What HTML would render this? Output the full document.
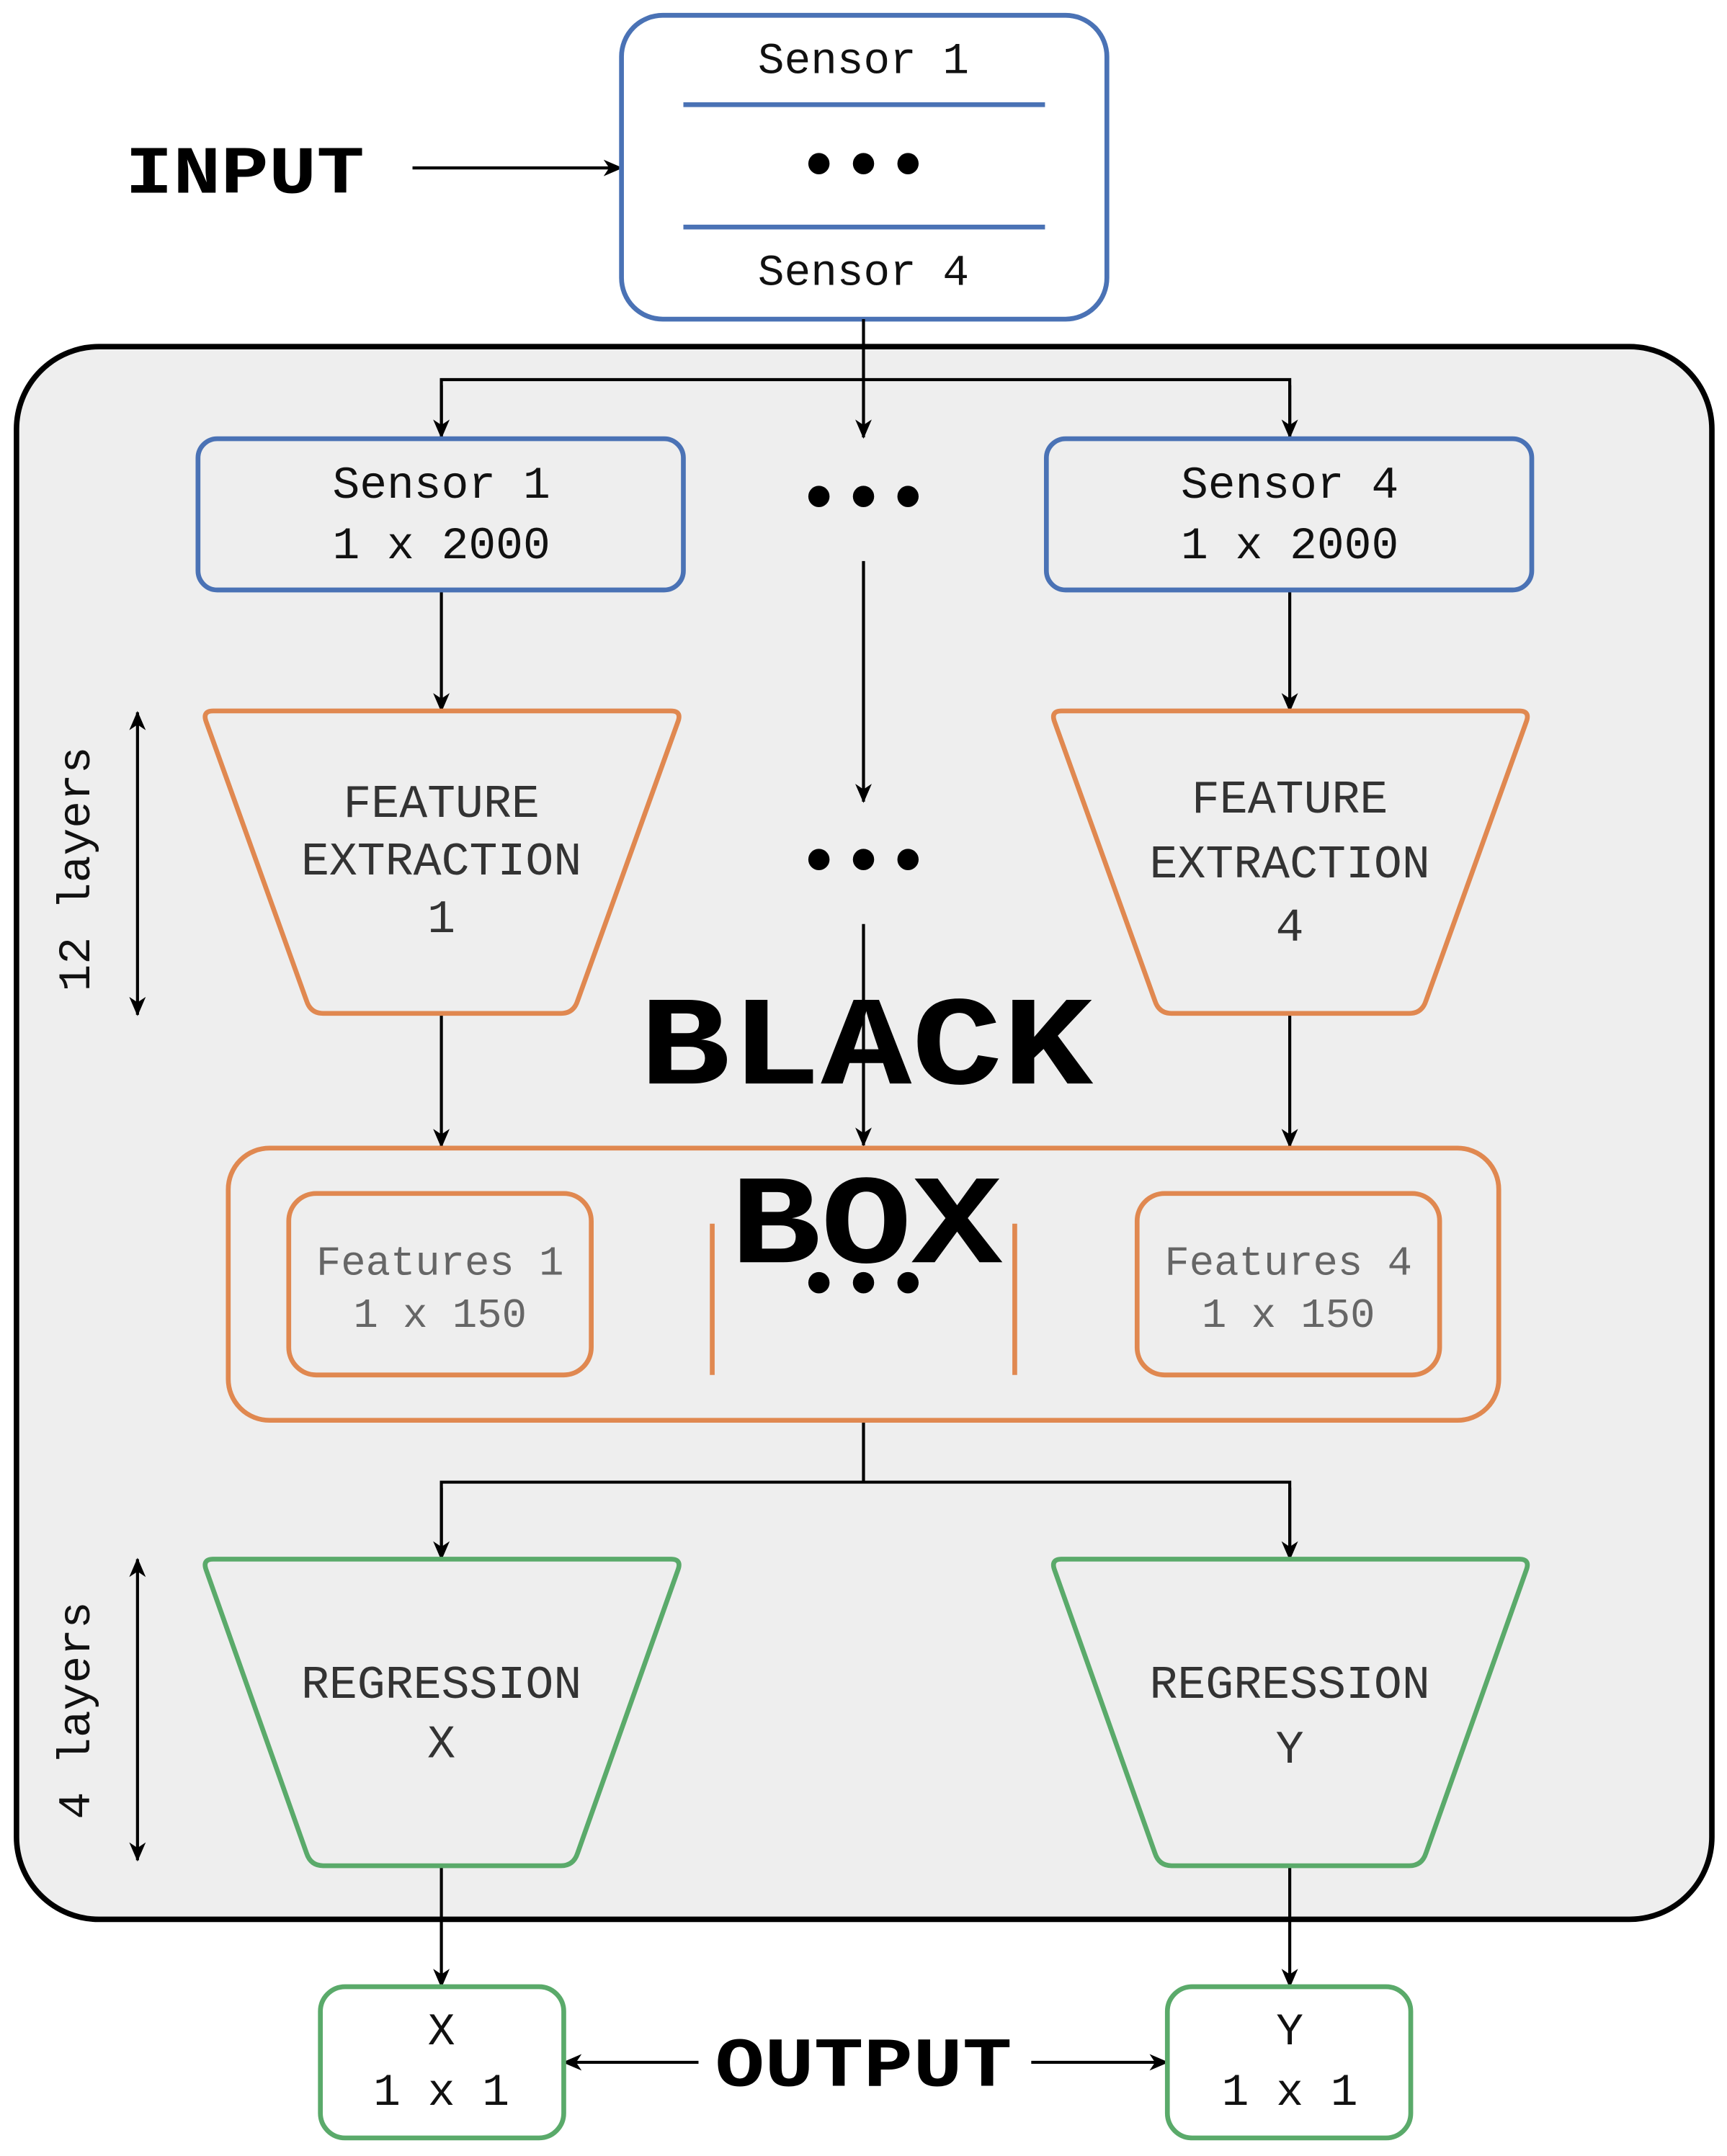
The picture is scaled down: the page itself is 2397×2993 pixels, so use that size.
<!DOCTYPE html>
<html><head><meta charset="utf-8"><style>
html,body{margin:0;padding:0;background:#fff;}
svg{display:block;}
text{font-family:"Liberation Mono","Courier New",monospace;}
</style></head><body>
<svg width="2397" height="2993" viewBox="0 0 1256 1568" xmlns="http://www.w3.org/2000/svg">
<defs>
<marker id="as" markerWidth="14" markerHeight="14" refX="13" refY="7" orient="auto-start-reverse" markerUnits="userSpaceOnUse" viewBox="0 0 14 14">
<path d="M0,1 L14,7 L0,13 L4,7 Z" fill="#000"/></marker>
</defs>
<rect width="1256" height="1568" fill="#fff"/>
<text transform="translate(178,140) scale(1,0.85)" font-size="58" font-weight="bold" text-anchor="middle">INPUT</text>
<line x1="300" y1="122" x2="452" y2="122" stroke="#000" stroke-width="2.2" marker-end="url(#as)"/>
<rect x="452" y="11" width="353" height="221" rx="30" fill="#fff" stroke="#4a72b5" stroke-width="3.5"/>
<text x="628" y="53" font-size="32" text-anchor="middle" fill="#111">Sensor 1</text>
<line x1="497" y1="76" x2="760" y2="76" stroke="#4a72b5" stroke-width="3.5"/>
<text x="628" y="137" font-size="54" font-weight="bold" text-anchor="middle">•••</text>
<line x1="497" y1="165" x2="760" y2="165" stroke="#4a72b5" stroke-width="3.5"/>
<text x="628" y="207" font-size="32" text-anchor="middle" fill="#111">Sensor 4</text>

<rect x="12" y="252" width="1233" height="1144" rx="60" fill="#eeeeee" stroke="#000" stroke-width="4"/>
<g stroke="#000" stroke-width="2.2" fill="none">
<line x1="628" y1="232" x2="628" y2="318" marker-end="url(#as)"/>
<polyline points="321,318 321,276 938,276 938,318"/>
<line x1="321" y1="280" x2="321" y2="318" marker-end="url(#as)"/>
<line x1="938" y1="280" x2="938" y2="318" marker-end="url(#as)"/>
<line x1="628" y1="408" x2="628" y2="583" marker-end="url(#as)"/>
<line x1="628" y1="672" x2="628" y2="833" marker-end="url(#as)"/>
<line x1="321" y1="429" x2="321" y2="517" marker-end="url(#as)"/>
<line x1="938" y1="429" x2="938" y2="517" marker-end="url(#as)"/>
<line x1="321" y1="737" x2="321" y2="834" marker-end="url(#as)"/>
<line x1="938" y1="737" x2="938" y2="834" marker-end="url(#as)"/>
<line x1="100" y1="518" x2="100" y2="738" marker-start="url(#as)" marker-end="url(#as)"/>
<line x1="100" y1="1134" x2="100" y2="1353" marker-start="url(#as)" marker-end="url(#as)"/>
<polyline points="628,1033 628,1078"/>
<polyline points="321,1134 321,1078 938,1078 938,1134"/>
<line x1="321" y1="1082" x2="321" y2="1134" marker-end="url(#as)"/>
<line x1="938" y1="1082" x2="938" y2="1134" marker-end="url(#as)"/>
<line x1="321" y1="1357" x2="321" y2="1445" marker-end="url(#as)"/>
<line x1="938" y1="1357" x2="938" y2="1445" marker-end="url(#as)"/>
<line x1="508" y1="1500" x2="410" y2="1500" marker-end="url(#as)"/>
<line x1="750" y1="1500" x2="849" y2="1500" marker-end="url(#as)"/>
</g>

<rect x="144" y="319" width="353" height="110" rx="14" fill="none" stroke="#4a72b5" stroke-width="3.5"/>
<rect x="761" y="319" width="353" height="110" rx="14" fill="none" stroke="#4a72b5" stroke-width="3.5"/>
<g font-size="33" text-anchor="middle" fill="#111">
<text x="321" y="362">Sensor 1</text><text x="321" y="406">1 x 2000</text>
<text x="938" y="362">Sensor 4</text><text x="938" y="406">1 x 2000</text>
</g>
<g font-size="54" font-weight="bold" text-anchor="middle">
<text x="628" y="379">•••</text><text x="628" y="643">•••</text><text x="628" y="951">•••</text>
</g>

<g fill="none" stroke="#e08850" stroke-width="3.5" stroke-linejoin="round">
<path d="M155,517 L488,517 Q496,517 493,525 L420,728 Q417,737 408,737 L235,737 Q226,737 223,728 L150,525 Q147,517 155,517 Z"/>
<path d="M772,517 L1105,517 Q1113,517 1110,525 L1037,728 Q1034,737 1025,737 L852,737 Q843,737 840,728 L767,525 Q764,517 772,517 Z"/>
<rect x="166" y="835" width="924" height="198" rx="30"/>
<rect x="210" y="868" width="220" height="132" rx="20"/>
<rect x="827" y="868" width="220" height="132" rx="20"/>
<line x1="518" y1="890" x2="518" y2="1000"/>
<line x1="738" y1="890" x2="738" y2="1000"/>
</g>
<g font-size="34" text-anchor="middle" fill="#333">
<text x="321" y="594">FEATURE</text><text x="321" y="636">EXTRACTION</text><text x="321" y="678">1</text>
<text x="938" y="591">FEATURE</text><text x="938" y="638">EXTRACTION</text><text x="938" y="684">4</text>
</g>
<g font-size="30" text-anchor="middle" fill="#666">
<text x="320" y="927">Features 1</text><text x="320" y="965">1 x 150</text>
<text x="937" y="927">Features 4</text><text x="937" y="965">1 x 150</text>
</g>
<g font-size="33" fill="#111" text-anchor="middle">
<text transform="translate(65,632) rotate(-90)">12 layers</text>
<text transform="translate(65,1244) rotate(-90)">4 layers</text>
</g>
<g font-size="110" font-weight="bold" text-anchor="middle" fill="#000">
<text transform="translate(630,788) scale(1,0.84)">BLACK</text>
<text transform="translate(630,918) scale(1,0.84)">BOX</text>
</g>

<g fill="none" stroke="#5aaa6a" stroke-width="3.5" stroke-linejoin="round">
<path d="M155,1134 L488,1134 Q496,1134 493,1142 L420,1348 Q417,1357 408,1357 L235,1357 Q226,1357 223,1348 L150,1142 Q147,1134 155,1134 Z"/>
<path d="M772,1134 L1105,1134 Q1113,1134 1110,1142 L1037,1348 Q1034,1357 1025,1357 L852,1357 Q843,1357 840,1348 L767,1142 Q764,1134 772,1134 Z"/>
<rect x="233" y="1445" width="177" height="110" rx="18" fill="#fff"/>
<rect x="849" y="1445" width="177" height="110" rx="18" fill="#fff"/>
</g>
<g font-size="34" text-anchor="middle" fill="#333">
<text x="321" y="1235">REGRESSION</text><text x="321" y="1278">X</text>
<text x="938" y="1235">REGRESSION</text><text x="938" y="1282">Y</text>
</g>
<g font-size="33" text-anchor="middle" fill="#111">
<text x="321" y="1487">X</text><text x="321" y="1531">1 x 1</text>
<text x="938" y="1487">Y</text><text x="938" y="1531">1 x 1</text>
</g>
<text transform="translate(628,1517) scale(1,0.85)" font-size="60" font-weight="bold" text-anchor="middle">OUTPUT</text>
</svg>
</body></html>
